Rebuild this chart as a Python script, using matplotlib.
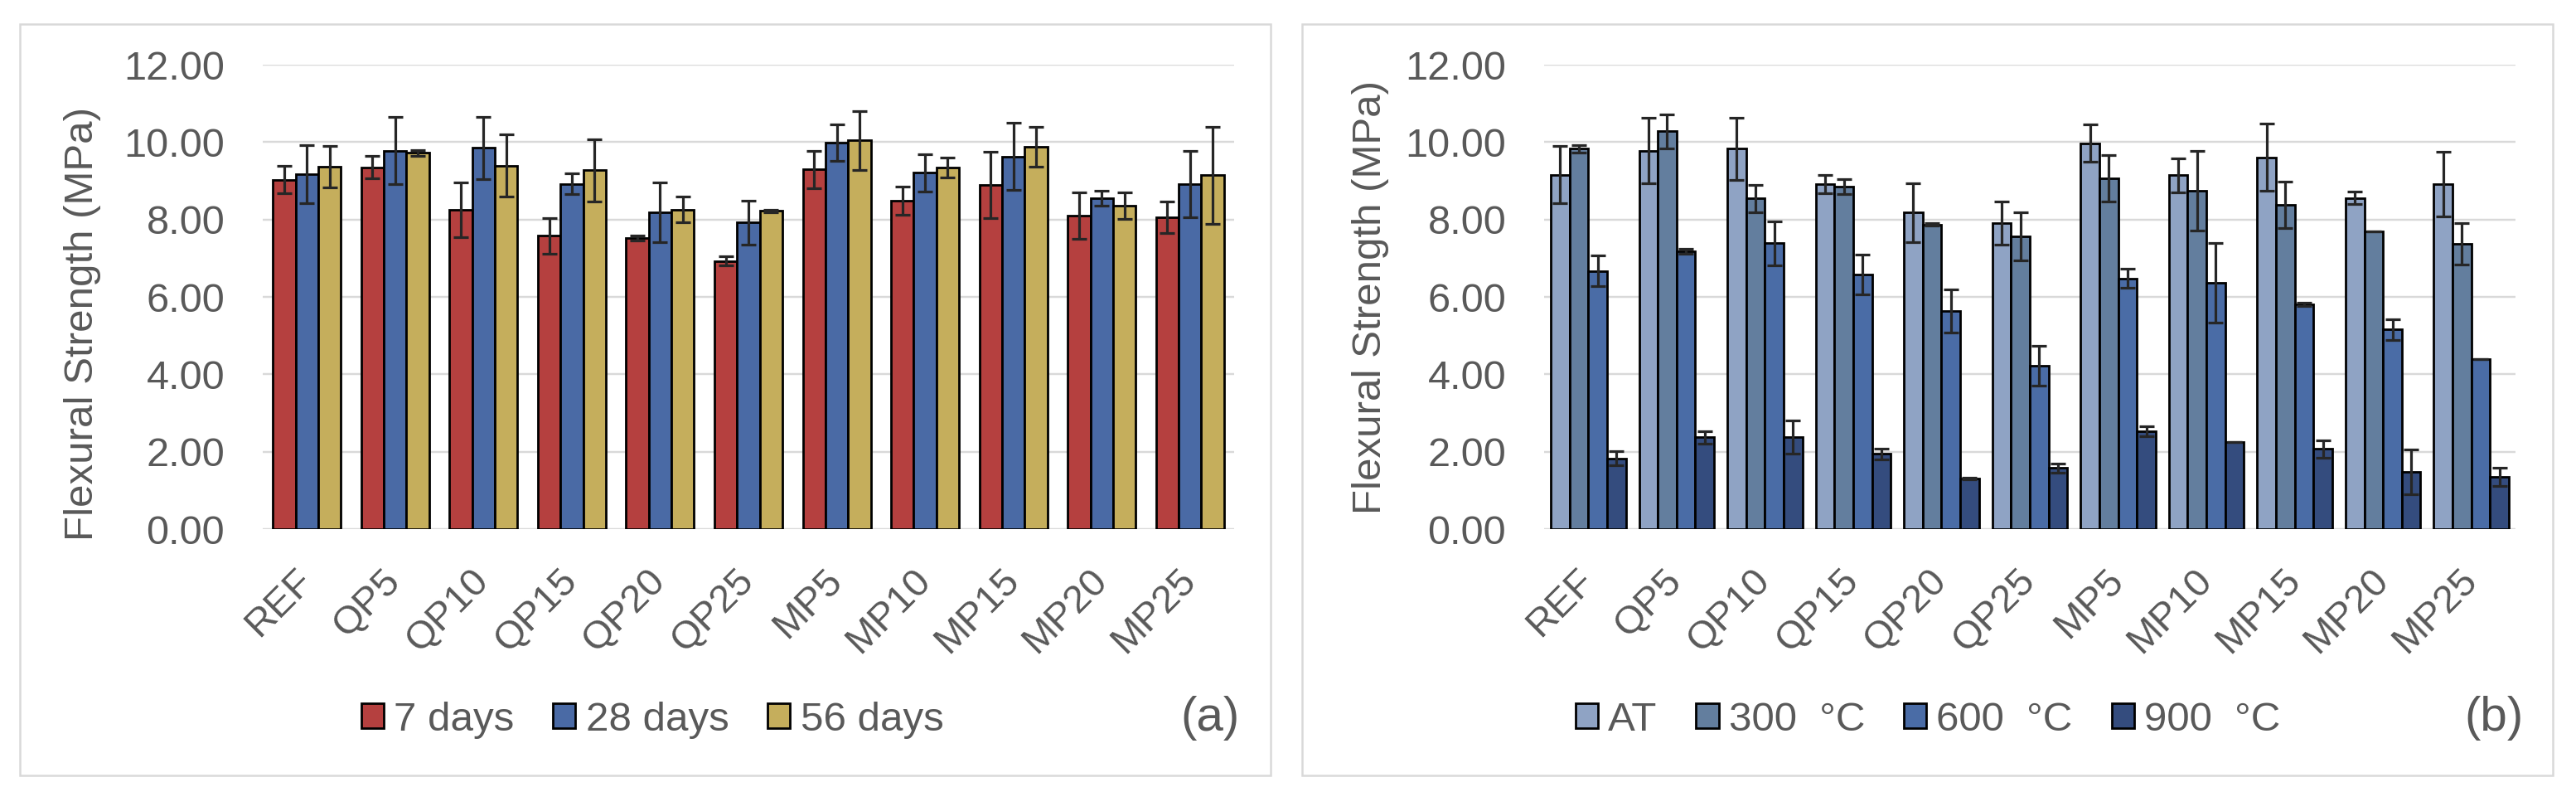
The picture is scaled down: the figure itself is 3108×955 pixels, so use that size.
import numpy as np
import matplotlib
matplotlib.use("Agg")
from matplotlib import pyplot as plt
from matplotlib.patches import Rectangle

plt.rcParams['font.family'] = ['Liberation Sans', 'DejaVu Sans']

# categories
mixes = ["REF", "QP5", "QP10", "QP15", "QP20", "QP25",
         "MP5", "MP10", "MP15", "MP20", "MP25"]

# panel (a): curing age
age_labels = ["7 days", "28 days", "56 days"]
d7 = [9.03, 9.35, 8.25, 7.58, 7.52, 6.93, 9.29, 8.49, 8.89, 8.10, 8.05]
d7_err = [0.35, 0.29, 0.71, 0.46, 0.07, 0.12, 0.48, 0.37, 0.86, 0.60, 0.41]
d28 = [9.18, 9.78, 9.85, 8.92, 8.19, 7.92, 9.98, 9.21, 9.63, 8.55, 8.91]
d28_err = [0.75, 0.87, 0.81, 0.27, 0.77, 0.57, 0.47, 0.48, 0.86, 0.20, 0.86]
d56 = [9.37, 9.72, 9.39, 9.27, 8.26, 8.22, 10.04, 9.34, 9.88, 8.35, 9.14]
d56_err = [0.54, 0.07, 0.80, 0.81, 0.34, 0.03, 0.76, 0.25, 0.51, 0.34, 1.25]

# panel (b): exposure temperature
temp_labels = ["AT", "300  °C", "600  °C", "900  °C"]
t_at = [9.16, 9.78, 9.83, 8.92, 8.18, 7.91, 9.97, 9.14, 9.61, 8.56, 8.92]
t_at_err = [0.74, 0.85, 0.80, 0.24, 0.76, 0.56, 0.48, 0.43, 0.86, 0.17, 0.84]
t300 = [9.83, 10.28, 8.54, 8.85, 7.87, 7.56, 9.06, 8.75, 8.37, 7.70, 7.37]
t300_err = [0.10, 0.44, 0.36, 0.19, 0.03, 0.62, 0.60, 1.03, 0.60, 0.0, 0.53]
t600 = [6.67, 7.18, 7.39, 6.58, 5.64, 4.22, 6.48, 6.37, 5.81, 5.16, 4.39]
t600_err = [0.40, 0.07, 0.57, 0.52, 0.56, 0.51, 0.24, 1.03, 0.05, 0.27, 0.0]
t900 = [1.83, 2.37, 2.37, 1.94, 1.30, 1.58, 2.53, 2.26, 2.07, 1.48, 1.35]
t900_err = [0.19, 0.16, 0.43, 0.14, 0.02, 0.12, 0.13, 0.0, 0.22, 0.57, 0.24]

W, H = 3108, 955
fig = plt.figure(figsize=(W / 100, H / 100), dpi=100)

txt = '#595959'
grid = '#d9d9d9'


def px(x0, y0, x1, y1):
    return [x0 / W, 1 - y1 / H, (x1 - x0) / W, (y1 - y0) / H]


# panel frames
for box in [(24, 29, 1533, 935), (1571, 29, 3080, 935)]:
    fig.patches.append(Rectangle((box[0] / W, 1 - box[3] / H),
                                 (box[2] - box[0]) / W, (box[3] - box[1]) / H,
                                 transform=fig.transFigure, fill=False,
                                 edgecolor=grid, linewidth=1.8))


def setup(ax):
    ax.set_xlim(-0.5, len(mixes) - 0.5)
    ax.set_ylim(0, 12)
    ax.set_yticks(np.arange(0, 12.1, 2))
    ax.set_yticklabels(["%.2f" % v for v in np.arange(0, 12.1, 2)])
    ax.set_xticks(np.arange(len(mixes)))
    ax.set_xticklabels(mixes, rotation=45, ha='right', va='center',
                       rotation_mode='anchor', fontsize=34, color=txt)
    for s in ax.spines.values():
        s.set_visible(False)
    ax.tick_params(axis='y', length=0, pad=33, labelsize=35, labelcolor=txt)
    ax.tick_params(axis='x', length=0, pad=40)
    ax.yaxis.grid(True, color=grid, linewidth=1.75)
    ax.set_axisbelow(True)


x = np.arange(len(mixes))
ekw = dict(ecolor='#262626', elinewidth=2.3, capsize=6.5, capthick=2.3)

# ---- panel (a)
ax1 = fig.add_axes(px(317, 78, 1489, 638))
setup(ax1)
wa = 0.77 / 3
for i, (vals, errs, col) in enumerate(zip([d7, d28, d56], [d7_err, d28_err, d56_err],
                                          ['#b5403f', '#4a6aa5', '#c5ae5c'])):
    ax1.bar(x + (i - 1) * wa, vals, wa, yerr=errs, color=col, edgecolor='black',
            linewidth=2, error_kw=ekw, label=age_labels[i], zorder=2)
fig.text(100 / W, 1 - 391 / H, "Flexural Strength (MPa)", rotation=90,
         ha='center', va='center', fontsize=35.5, color=txt)
fig.legend(*ax1.get_legend_handles_labels(), loc='center', ncol=3,
           bbox_to_anchor=(787 / W, 1 - 868 / H), frameon=False,
           fontsize=35.5, labelcolor=txt, handlelength=0.55, handleheight=0.55,
           handletextpad=0.25, columnspacing=0.95, borderpad=0)
fig.text(1460 / W, 1 - 866 / H, "(a)", ha='center', va='center',
         fontsize=42, color=txt)

# ---- panel (b)
ax2 = fig.add_axes(px(1863, 78, 3035, 638))
setup(ax2)
wb = 0.85 / 4
for i, (vals, errs, col) in enumerate(zip([t_at, t300, t600, t900],
                                          [t_at_err, t300_err, t600_err, t900_err],
                                          ['#8fa3c4', '#637e9e', '#4a6ca6', '#344c7e'])):
    ax2.bar(x + (i - 1.5) * wb, vals, wb, yerr=errs, color=col, edgecolor='black',
            linewidth=2, error_kw=ekw, label=temp_labels[i], zorder=2)
ax2.hlines(np.zeros(len(mixes)), x - 0.85 / 2, x + 0.85 / 2, color='#a6a6a6',
           linewidth=3.5, zorder=1.5)
fig.text(1654 / W, 1 - 358 / H, "Flexural Strength (MPa)", rotation=90,
         ha='center', va='center', fontsize=35.5, color=txt)
fig.legend(*ax2.get_legend_handles_labels(), loc='center', ncol=4,
           bbox_to_anchor=(2326 / W, 1 - 868 / H), frameon=False,
           fontsize=35.5, labelcolor=txt, handlelength=0.55, handleheight=0.55,
           handletextpad=0.25, columnspacing=0.95, borderpad=0)
fig.text(3009 / W, 1 - 866 / H, "(b)", ha='center', va='center',
         fontsize=42, color=txt)

fig.savefig("out.png", dpi=100)
